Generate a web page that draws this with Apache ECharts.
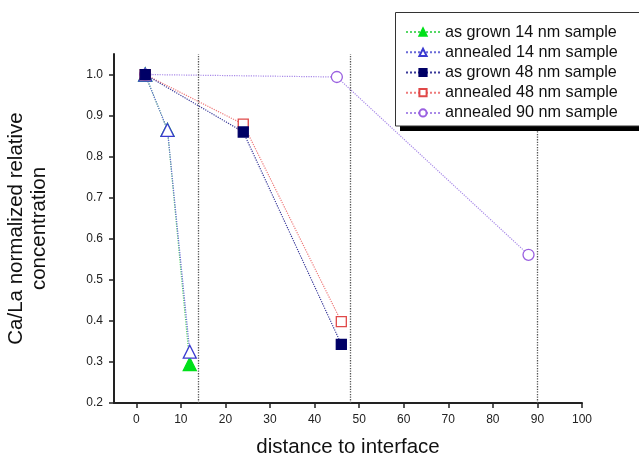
<!DOCTYPE html>
<html>
<head>
<meta charset="utf-8">
<script src="https://cdn.jsdelivr.net/npm/echarts@6/dist/echarts.min.js"></script>
<style>
html, body { margin: 0; padding: 0; background: #fff; }
#chart { width: 639px; height: 457px; }
</style>
</head>
<body>
<div id="chart"></div>
<script>
// Ca/La concentration profiles versus distance to interface
const asGrown14 = [[2, 1.0], [7, 0.865], [12, 0.295]];
const annealed14 = [[2, 1.0], [7, 0.865], [12, 0.325]];
const asGrown48 = [[2, 1.0], [24, 0.86], [46, 0.343]];
const annealed48 = [[2, 1.0], [24, 0.879], [46, 0.398]];
const annealed90 = [[2, 1.0], [45, 0.994], [88, 0.561]];

// sample thickness markers (nm)
const thicknessLines = [14, 48, 90];

const xTicks = [0, 10, 20, 30, 40, 50, 60, 70, 80, 90, 100];
const yTicks = [0.2, 0.3, 0.4, 0.5, 0.6, 0.7, 0.8, 0.9, 1.0];

const FONT = '"Liberation Sans", Arial, sans-serif';

function lineSeries(name, data, symbol, size, fill, border, lineColor, z) {
  return {
    name: name,
    type: 'line',
    data: data,
    symbol: symbol,
    symbolSize: size,
    z: z,
    itemStyle: { color: fill, borderColor: border, borderWidth: 1.3 },
    lineStyle: { color: lineColor, width: 1.2, type: 'dotted' },
    emphasis: { disabled: true },
    animation: false
  };
}

const series = [
  lineSeries('as grown 14 nm sample', asGrown14, 'triangle', 13, '#00e01a', '#00e01a', '#55d865', 2),
  lineSeries('annealed 14 nm sample', annealed14, 'triangle', 13, '#ffffff', '#3a3ad0', '#6a6ad8', 3),
  lineSeries('as grown 48 nm sample', asGrown48, 'rect', 10, '#000066', '#000066', '#3a3a9a', 5),
  lineSeries('annealed 48 nm sample', annealed48, 'rect', 10, '#ffffff', '#e04848', '#ee7a7a', 4),
  lineSeries('annealed 90 nm sample', annealed90, 'circle', 11, '#ffffff', '#9a60e0', '#a98ae8', 3)
];

// vertical dotted guides at the sample thicknesses
series[0].markLine = {
  silent: true,
  symbol: 'none',
  label: { show: false },
  lineStyle: { color: '#555', type: 'dotted', width: 1.3 },
  data: thicknessLines.map(v => ({ xAxis: v }))
};

const chart = echarts.init(document.getElementById('chart'), null, { renderer: 'canvas' });
chart.setOption({
  backgroundColor: '#ffffff',
  animation: false,
  textStyle: { fontFamily: FONT },
  grid: { left: 114, right: 57, top: 54, bottom: 54, containLabel: false, outerBoundsMode: 'none' },
  xAxis: {
    type: 'value',
    min: -5,
    max: 100,
    name: 'distance to interface',
    nameLocation: 'middle',
    nameGap: 34,
    nameTextStyle: { fontSize: 20.5, color: '#111', fontFamily: FONT },
    axisLine: { onZero: false, lineStyle: { color: '#222', width: 2 } },
    axisTick: { show: true, length: 5, inside: false, customValues: xTicks, lineStyle: { color: '#222', width: 1.5 } },
    axisLabel: { customValues: xTicks, fontSize: 12, color: '#222', margin: 11, fontFamily: FONT },
    splitLine: { show: false }
  },
  yAxis: {
    type: 'value',
    min: 0.2,
    max: 1.05,
    name: 'Ca/La normalized relative\nconcentration',
    nameLocation: 'middle',
    nameGap: 63,
    nameTextStyle: { fontSize: 20.5, color: '#111', lineHeight: 23, fontFamily: FONT },
    axisLine: { onZero: false, lineStyle: { color: '#222', width: 2 } },
    axisTick: { show: true, length: 5, inside: false, customValues: yTicks, lineStyle: { color: '#222', width: 1.5 } },
    axisLabel: {
      customValues: yTicks,
      fontSize: 12,
      color: '#222',
      margin: 11,
      fontFamily: FONT,
      formatter: v => v.toFixed(1)
    },
    splitLine: { show: false }
  },
  legend: {
    left: 400,
    top: 19,
    orient: 'vertical',
    itemWidth: 34,
    itemHeight: 9,
    itemGap: 4,
    z: 20,
    selectedMode: false,
    textStyle: { fontSize: 16.2, lineHeight: 16.2, color: '#111', fontFamily: FONT },
    data: series.map(s => s.name)
  },
  graphic: [
    { type: 'rect', z: 15, silent: true, shape: { x: 400, y: 18, width: 260, height: 113 }, style: { fill: '#000' } },
    { type: 'rect', z: 16, silent: true, shape: { x: 395.5, y: 12.5, width: 260, height: 113.5 }, style: { fill: '#fff', stroke: '#333', lineWidth: 1 } }
  ],
  series: series
});
</script>
</body>
</html>
